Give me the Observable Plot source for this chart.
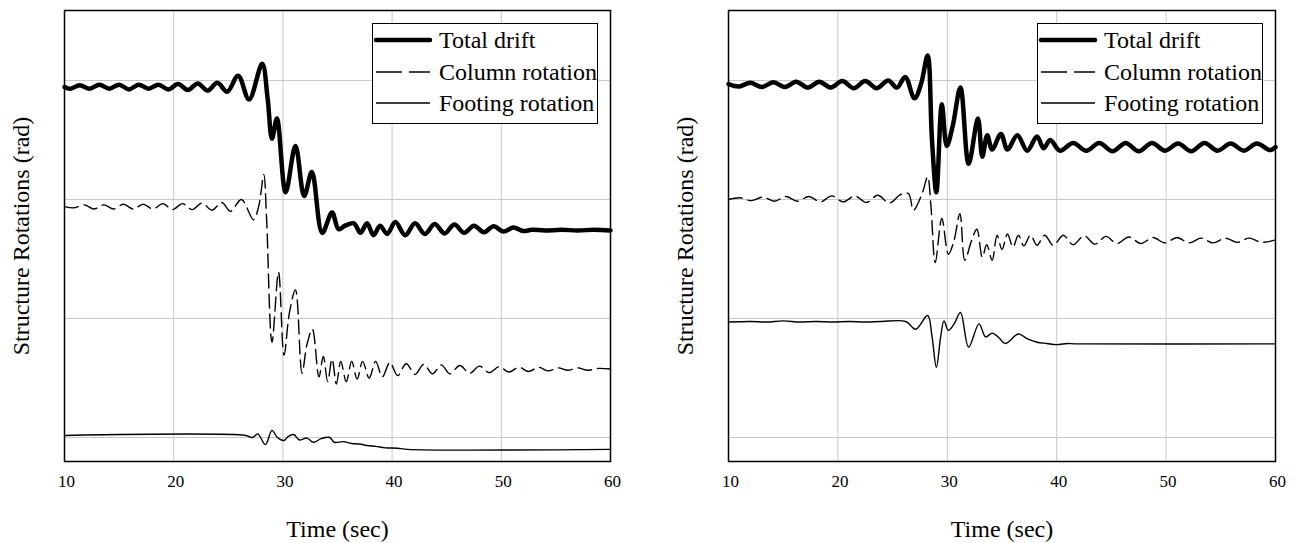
<!DOCTYPE html>
<html><head><meta charset="utf-8">
<script src="https://cdn.jsdelivr.net/npm/d3@7"></script>
<script src="https://cdn.jsdelivr.net/npm/@observablehq/plot@0.6"></script>
<style>
body{margin:0;background:#fff;}
#wrap{position:relative;width:1298px;height:543px;font-family:"Liberation Serif","Times New Roman",serif;}
.panel{position:absolute;top:0;}
.legend{position:absolute;top:23px;width:226px;height:101px;overflow:visible;}
</style></head><body><div id="wrap"></div>
<script>
// ---- data ----
const xTicks = [10, 20, 30, 40, 50, 60];
const yGrid = [0, 1, 2, 3];
const legendLabels = ["Total drift", "Column rotation", "Footing rotation"];
const xLabel = "Time (sec)";
const yLabel = "Structure Rotations (rad)";

const leftTotal = [[10,2.945],[10.5,2.93],[11.4,2.96],[12.3,2.93],[13.2,2.965],[14.1,2.93],[15.0,2.965],[15.9,2.925],[16.8,2.965],[17.7,2.93],[18.6,2.965],[19.5,2.925],[20.4,2.97],[21.3,2.92],[22.2,2.975],[23.1,2.915],[24.0,2.98],[24.9,2.905],[25.9,3.04],[26.9,2.84],[28.1,3.14],[28.6,2.85],[29.0,2.51],[29.45,2.68],[30.25,2.06],[31.15,2.45],[31.95,2.03],[32.65,2.23],[33.6,1.72],[34.5,1.89],[35.1,1.75],[35.7,1.78],[36.5,1.80],[37.1,1.72],[37.7,1.80],[38.3,1.70],[38.9,1.78],[39.55,1.71],[40.3,1.81],[41.2,1.70],[42.1,1.80],[43.0,1.71],[43.9,1.795],[44.8,1.715],[45.7,1.79],[46.6,1.72],[47.5,1.78],[48.4,1.725],[49.3,1.775],[50.2,1.73],[51.1,1.765],[52.0,1.735],[52.8,1.745],[54.0,1.74],[55.5,1.745],[57.0,1.74],[58.5,1.745],[60,1.74]];
const leftColumn = [[10,1.94],[10.9,1.93],[11.8,1.955],[12.7,1.92],[13.6,1.955],[14.5,1.92],[15.4,1.96],[16.3,1.92],[17.2,1.96],[18.1,1.92],[19.0,1.965],[19.9,1.915],[20.8,1.965],[21.7,1.915],[22.6,1.97],[23.5,1.91],[24.4,1.975],[25.2,1.90],[26.2,2.0],[27.3,1.83],[27.8,1.95],[28.25,2.21],[28.5,1.85],[29.0,0.80],[29.6,1.39],[30.1,0.69],[30.6,1.05],[31.15,1.24],[31.75,0.54],[32.2,0.78],[32.7,0.91],[33.3,0.51],[33.7,0.68],[34.1,0.47],[34.5,0.66],[34.9,0.45],[35.3,0.64],[35.8,0.47],[36.3,0.64],[36.8,0.49],[37.3,0.64],[37.9,0.50],[38.5,0.64],[39.1,0.51],[39.8,0.63],[40.5,0.52],[41.3,0.62],[42.1,0.53],[42.9,0.615],[43.7,0.535],[44.5,0.61],[45.3,0.535],[46.2,0.605],[47.1,0.54],[48.0,0.60],[48.9,0.545],[49.8,0.595],[50.7,0.55],[51.6,0.59],[52.5,0.555],[53.4,0.59],[54.3,0.56],[55.2,0.585],[56.1,0.565],[57.0,0.585],[57.9,0.565],[58.8,0.58],[60,0.575]];
const leftFooting = [[10,0.017],[26.6,0.017],[27.2,0.0],[27.7,0.03],[28.4,-0.06],[29.0,0.06],[29.5,0.0],[30.1,-0.025],[30.5,0.01],[31.0,0.025],[31.5,-0.02],[32.2,-0.005],[32.8,-0.04],[33.5,-0.01],[34.3,0.0],[34.7,-0.04],[35.5,-0.035],[36.3,-0.05],[37.0,-0.055],[37.7,-0.067],[38.5,-0.075],[39.4,-0.087],[40.5,-0.09],[41.4,-0.10],[60,-0.10]];

const rightTotal = [[10,2.97],[10.95,2.95],[12.0,2.98],[13.05,2.945],[14.1,2.985],[15.15,2.945],[16.2,2.99],[17.25,2.94],[18.3,2.99],[19.35,2.94],[20.4,2.995],[21.45,2.935],[22.5,2.995],[23.55,2.935],[24.6,3.0],[25.4,2.94],[26.15,3.03],[27.0,2.85],[27.6,2.97],[28.2,3.21],[28.6,2.5],[29.0,2.06],[29.5,2.80],[29.95,2.45],[30.5,2.62],[31.2,2.94],[31.95,2.30],[32.8,2.68],[33.2,2.36],[33.65,2.54],[34.1,2.42],[34.9,2.55],[35.5,2.42],[36.4,2.54],[37.3,2.41],[38.2,2.53],[38.8,2.43],[39.4,2.50],[40.3,2.41],[41.5,2.475],[42.7,2.41],[43.9,2.475],[45.1,2.405],[46.3,2.475],[47.5,2.405],[48.7,2.475],[49.9,2.41],[51.1,2.47],[52.3,2.405],[53.5,2.475],[54.7,2.41],[55.9,2.47],[57.1,2.41],[58.3,2.47],[59.5,2.415],[60,2.44]];
const rightColumn = [[10,2.0],[11.05,2.015],[12.1,1.99],[13.15,2.02],[14.2,1.985],[15.25,2.025],[16.3,1.985],[17.35,2.025],[18.4,1.98],[19.45,2.03],[20.5,1.98],[21.55,2.03],[22.6,1.975],[23.65,2.035],[24.7,1.97],[25.7,2.04],[26.45,2.05],[26.9,1.91],[27.7,2.05],[28.2,2.19],[28.5,1.95],[28.9,1.47],[29.5,1.84],[30.1,1.54],[30.6,1.65],[31.15,1.88],[31.6,1.49],[32.2,1.65],[32.7,1.75],[33.2,1.515],[33.6,1.62],[34.1,1.49],[34.55,1.70],[35.0,1.58],[35.5,1.71],[36.0,1.60],[36.5,1.70],[37.0,1.61],[37.6,1.70],[38.2,1.615],[38.9,1.70],[39.7,1.615],[40.6,1.70],[41.5,1.62],[42.5,1.695],[43.5,1.625],[44.5,1.69],[45.5,1.63],[46.6,1.685],[47.7,1.63],[48.8,1.68],[49.9,1.635],[51.0,1.68],[52.1,1.635],[53.2,1.675],[54.3,1.635],[55.4,1.675],[56.5,1.64],[57.6,1.675],[58.7,1.64],[60,1.66]];
const rightFooting = [[10,0.97],[12,0.975],[13.5,0.97],[15,0.98],[16.5,0.97],[18,0.975],[19.5,0.97],[21,0.975],[22.5,0.97],[24,0.975],[26.2,0.975],[27.1,0.91],[28.2,1.025],[28.6,0.85],[29.0,0.59],[29.4,0.85],[29.7,0.98],[30.1,0.90],[30.6,0.95],[31.2,1.05],[31.95,0.76],[32.9,0.955],[33.5,0.845],[34.1,0.877],[34.7,0.84],[35.3,0.79],[36.5,0.87],[37.3,0.83],[38.2,0.80],[39.1,0.79],[40.0,0.78],[41.0,0.79],[41.8,0.787],[60,0.787]];

// ---- styles per series ----
const seriesStyle = [
  {strokeWidth: 4.5, dash: null},
  {strokeWidth: 1.4, dash: "14,6"},
  {strokeWidth: 1.4, dash: null}
];

const FONT = "'Liberation Serif','Times New Roman',serif";

function panel(total, column, footing, mLeft, mRight) {
  const X = d => d[0], Y = d => d[1];
  return Plot.plot({
    width: 649, height: 543,
    marginLeft: mLeft, marginRight: mRight, marginTop: 10, marginBottom: 82,
    style: {fontFamily: FONT, fontSize: "17px", background: "white", color: "black", overflow: "visible"},
    x: {domain: [10, 60]},
    y: {domain: [-0.2017, 3.588], axis: null},
    marks: [
      Plot.gridX(xTicks, {stroke: "#c8c8c8", strokeOpacity: 1, strokeWidth: 1}),
      Plot.gridY(yGrid, {stroke: "#c8c8c8", strokeOpacity: 1, strokeWidth: 1}),
      Plot.line(footing, {x: X, y: Y, stroke: "black", strokeWidth: seriesStyle[2].strokeWidth, curve: "catmull-rom"}),
      Plot.line(column, {x: X, y: Y, stroke: "black", strokeWidth: seriesStyle[1].strokeWidth, strokeDasharray: seriesStyle[1].dash, curve: "catmull-rom"}),
      Plot.line(total, {x: X, y: Y, stroke: "black", strokeWidth: seriesStyle[0].strokeWidth, curve: "catmull-rom", strokeLinejoin: "round"}),
      Plot.frame({stroke: "black", strokeWidth: 1.5}),
      Plot.axisX(xTicks, {tickSize: 0, tickPadding: 13, dx: 2, fontSize: 17, label: null}),
      Plot.text([xLabel], {text: d => d, frameAnchor: "bottom", dy: 75, fontSize: 24, textAnchor: "middle"}),
      Plot.text([yLabel], {text: d => d, frameAnchor: "left", rotate: -90, dx: -43, fontSize: 24, textAnchor: "middle"})
    ]
  });
}

function legend(left) {
  const svg = d3.create("svg").attr("class", "legend").style("left", left + "px")
    .attr("width", 226).attr("height", 101).style("overflow", "visible");
  svg.append("rect").attr("x", 0.5).attr("y", 0.5).attr("width", 225).attr("height", 100)
    .attr("fill", "white").attr("stroke", "black").attr("stroke-width", 1);
  const rowsY = [17, 49, 80];
  legendLabels.forEach((lab, i) => {
    const l = svg.append("line").attr("x1", 4).attr("x2", 58).attr("y1", rowsY[i]).attr("y2", rowsY[i])
      .attr("stroke", "black").attr("stroke-width", i === 0 ? 4.5 : 1.4);
    if (i === 1) l.attr("stroke-dasharray", "26,7");
    if (i === 0) l.attr("stroke-linecap", "round");
    svg.append("text").attr("x", 67).attr("y", rowsY[i]).attr("dy", "0.35em")
      .attr("font-family", FONT).attr("font-size", 24).attr("fill", "black").text(lab);
  });
  return svg.node();
}

const wrap = document.getElementById("wrap");
const p1 = panel(leftTotal, leftColumn, leftFooting, 64, 39);
p1.classList.add("panel"); p1.style.left = "0px";
const p2 = panel(rightTotal, rightColumn, rightFooting, 79, 23);
p2.classList.add("panel"); p2.style.left = "649px";
wrap.appendChild(p1);
wrap.appendChild(p2);
wrap.appendChild(legend(372));
wrap.appendChild(legend(1037));
</script>
</body></html>
